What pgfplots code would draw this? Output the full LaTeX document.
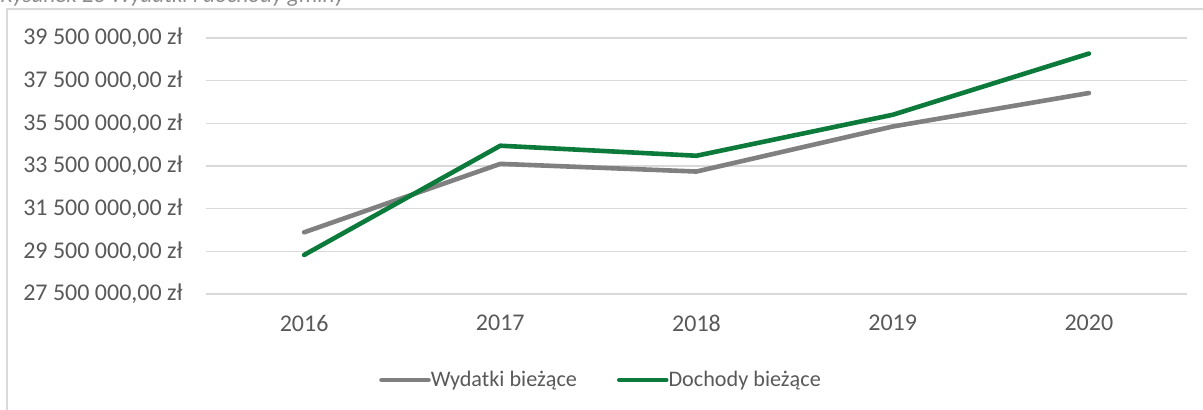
\documentclass[border=0pt]{standalone}
\usepackage{pgfplots}
\pgfplotsset{compat=1.18}
\usepackage{fontspec}
\setmainfont{Carlito}

\definecolor{txt}{HTML}{595959}
\definecolor{gridc}{HTML}{D9D9D9}
\definecolor{wyd}{HTML}{808080}
\definecolor{doch}{HTML}{0B7A3B}
\definecolor{capc}{HTML}{8C8C8C}

\begin{document}
\begin{tikzpicture}
% page area: 1203 x 410 px at 0.5pt per px
\path (0,0) rectangle (601.5pt,205pt);

\begin{pgfinterruptboundingbox}
\begin{scope}
\clip (0,0) rectangle (601.5pt,205pt);
% caption, cut off by the top edge as in the source
\node[anchor=base west, inner sep=0pt, text=capc, font=\fontsize{11.5}{13}\selectfont\itshape]
  at (0pt,203.8pt) {Rysunek 23 Wydatki i dochody gminy};
% chart frame (runs past the right and bottom edges)
\draw[gridc, line width=0.6pt] (3.5pt,-10pt) -- (3.5pt,200.5pt) -- (640pt,200.5pt);
\end{scope}
\end{pgfinterruptboundingbox}

\begin{axis}[
    scale only axis,
    width=490.5pt, height=128pt,
    at={(103pt,58pt)}, anchor=south west,
    xmin=2015.5, xmax=2020.5,
    ymin=27.5, ymax=39.5,
    xtick={2016,2017,2018,2019,2020},
    xticklabels={2016,2017,2018,2019,2020},
    ytick={27.5,29.5,31.5,33.5,35.5,37.5,39.5},
    yticklabels={{27 500 000,00 zł},{29 500 000,00 zł},{31 500 000,00 zł},{33 500 000,00 zł},{35 500 000,00 zł},{37 500 000,00 zł},{39 500 000,00 zł}},
    /pgf/number format/assume math mode=true,
    axis line style={draw=none},
    major tick length=0pt,
    ymajorgrids=true,
    grid style={gridc, line width=0.75pt},
    tick label style={text=txt, font=\fontsize{12}{14}\selectfont, inner sep=0pt},
    yticklabel style={anchor=east, xshift=-11.5pt},
    xticklabel style={anchor=north, yshift=-10.5pt},
    clip=false,
    legend columns=2,
    legend style={draw=none, fill=none, at={(axis description cs:0.4037,-0.336)}, anchor=center,
        font=\fontsize{11.1}{13}\selectfont, text=txt, inner sep=0pt,
        /tikz/every odd column/.append style={column sep=-2pt},
        /tikz/every even column/.append style={column sep=18pt}},
    legend cell align=left,
    legend image code/.code={\draw[#1, line cap=round] (0pt,0pt) -- (23.5pt,0pt);},
    every axis plot/.append style={line width=2.3pt, line cap=round, line join=round},
]
\addplot[color=wyd] coordinates {
    (2016,30.39) (2017,33.60) (2018,33.24) (2019,35.35) (2020,36.92)
};
\addlegendentry{Wydatki bieżące}
\addplot[color=doch] coordinates {
    (2016,29.33) (2017,34.45) (2018,33.98) (2019,35.90) (2020,38.77)
};
\addlegendentry{Dochody bieżące}
\end{axis}
\end{tikzpicture}
\end{document}
